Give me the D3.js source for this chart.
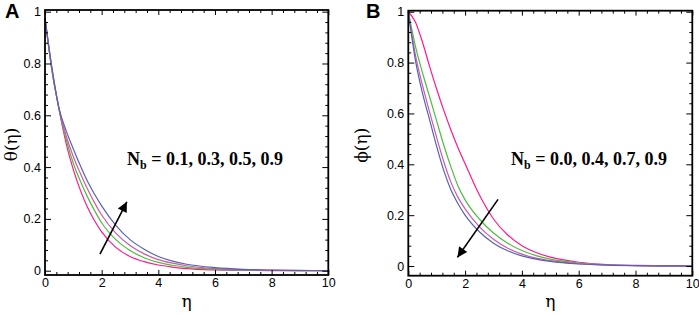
<!DOCTYPE html>
<html><head><meta charset="utf-8">
<script src="https://cdn.jsdelivr.net/npm/d3@7"></script>
<style>
body{margin:0;background:#fff;}
svg{display:block;}
</style></head>
<body>
<svg id="c" width="699" height="315"></svg>
<script>
// ---------- data ----------
const eta = [0,0.25,0.5,0.75,1,1.25,1.5,1.75,2,2.5,3,3.5,4,4.5,5,6,7,8,9,10];

// Panel A: theta(eta), Nb = 0.1, 0.3, 0.5, 0.9
const thetaNb01 = [0.975,0.77,0.62,0.49,0.39,0.31,0.245,0.193,0.15,0.09,0.055,0.035,0.022,0.014,0.008,0.003,0.0012,0.0005,0.0002,0];
const thetaNb03 = [0.975,0.77,0.622,0.505,0.415,0.345,0.285,0.232,0.185,0.12,0.078,0.05,0.032,0.021,0.013,0.0055,0.0022,0.001,0.0004,0];
const thetaNb05 = [0.975,0.775,0.624,0.52,0.44,0.375,0.315,0.262,0.215,0.145,0.097,0.065,0.043,0.029,0.019,0.008,0.0035,0.0015,0.0006,0.0003];
const thetaNb09 = [0.975,0.78,0.625,0.54,0.47,0.405,0.345,0.295,0.25,0.175,0.12,0.083,0.055,0.037,0.025,0.012,0.0055,0.0025,0.001,0.0005];

// Panel B: phi(eta), Nb = 0.0, 0.4, 0.7, 0.9
const phiNb00 = [1,0.96,0.88,0.785,0.695,0.612,0.535,0.465,0.402,0.28,0.185,0.122,0.08,0.053,0.035,0.015,0.006,0.0025,0.001,0];
const phiNb04 = [1,0.865,0.76,0.665,0.57,0.475,0.39,0.315,0.26,0.185,0.13,0.09,0.061,0.041,0.027,0.012,0.005,0.002,0.0008,0];
const phiNb07 = [1,0.83,0.71,0.605,0.505,0.41,0.33,0.27,0.225,0.155,0.105,0.07,0.047,0.031,0.021,0.009,0.004,0.0016,0.0006,0];
const phiNb09 = [1,0.81,0.68,0.575,0.47,0.375,0.3,0.245,0.2,0.135,0.09,0.06,0.04,0.027,0.018,0.008,0.0035,0.0015,0.0006,0];

const xTicks = [0,2,4,6,8,10];
const yTicks = [0,0.2,0.4,0.6,0.8,1];
const yTickLabels = ["0","0.2","0.4","0.6","0.8","1"];
const seriesColors = ["#ff1a8c","#4fbd3c","#cc5aaa","#5862b4"];

const panels = [
  {letter:"A", ylab:"θ(η)", series:[thetaNb01,thetaNb03,thetaNb05,thetaNb09],
   note:"= 0.1, 0.3, 0.5, 0.9", arrow:[[1.94,0.064],[2.89,0.266]],
   box:{l:45,r:328.3,t:10,b:275}, ydom:[-0.0166,1.0065], noteX:127, ylabX:12, letterX:5},
  {letter:"B", ylab:"ϕ(η)", series:[phiNb00,phiNb04,phiNb07,phiNb09],
   note:"= 0.0, 0.4, 0.7, 0.9", arrow:[[3.16,0.262],[1.73,0.034]],
   box:{l:408.3,r:692.3,t:10.7,b:275.7}, ydom:[-0.038,1.004], noteX:511, ylabX:362, letterX:366}
];

const svg = d3.select("#c");
const defs = svg.append("defs");
defs.append("marker").attr("id","ah").attr("viewBox","0 0 10 10")
  .attr("refX",10).attr("refY",5).attr("markerWidth",15).attr("markerHeight",10)
  .attr("markerUnits","userSpaceOnUse").attr("orient","auto")
  .append("path").attr("d","M0,0 L10,5 L0,10 Z").attr("fill","#000");

panels.forEach(p => {
  const B = p.box;
  const x = d3.scaleLinear().domain([0,10]).range([B.l,B.r]);
  const y = d3.scaleLinear().domain(p.ydom).range([B.b,B.t]);
  const g = svg.append("g");

  // curves
  const line = d3.line().x((d,i)=>x(eta[i])).y(d=>y(d)).curve(d3.curveMonotoneX);
  p.series.forEach((s,i)=>{
    g.append("path").attr("d",line(s)).attr("fill","none")
      .attr("stroke",seriesColors[i]).attr("stroke-width",1.2);
  });

  // minor ticks
  const xMinor = d3.range(0,10.001,0.4).filter(v=>!xTicks.some(t=>Math.abs(t-v)<1e-6));
  const yMinor = d3.range(0,1.001,0.04).filter(v=>!yTicks.some(t=>Math.abs(t-v)<1e-6));
  const styleAxis = sel => { sel.select(".domain").remove(); sel.selectAll("line").attr("stroke","#000"); };

  g.append("g").attr("transform",`translate(0,${B.b})`)
    .call(d3.axisBottom(x).tickValues(xMinor).tickSize(-3).tickFormat("")).call(styleAxis);
  g.append("g").attr("transform",`translate(0,${B.t})`)
    .call(d3.axisTop(x).tickValues(xMinor).tickSize(-3).tickFormat("")).call(styleAxis);
  g.append("g").attr("transform",`translate(${B.l},0)`)
    .call(d3.axisLeft(y).tickValues(yMinor).tickSize(-3).tickFormat("")).call(styleAxis);
  g.append("g").attr("transform",`translate(${B.r},0)`)
    .call(d3.axisRight(y).tickValues(yMinor).tickSize(-3).tickFormat("")).call(styleAxis);

  // major ticks
  const font = sel => sel.selectAll("text").attr("font-family","Liberation Sans, Arial, sans-serif")
      .attr("font-size",12.5).attr("fill","#000");
  g.append("g").attr("transform",`translate(0,${B.b})`)
    .call(d3.axisBottom(x).tickValues(xTicks).tickSize(-5).tickPadding(3).tickFormat(d3.format("d")))
    .call(styleAxis).call(font);
  g.append("g").attr("transform",`translate(0,${B.t})`)
    .call(d3.axisTop(x).tickValues(xTicks).tickSize(-5).tickFormat("")).call(styleAxis);
  g.append("g").attr("transform",`translate(${B.l},0)`)
    .call(d3.axisLeft(y).tickValues(yTicks).tickSize(-6).tickPadding(4).tickFormat((d,i)=>yTickLabels[i]))
    .call(styleAxis).call(font);
  g.append("g").attr("transform",`translate(${B.r},0)`)
    .call(d3.axisRight(y).tickValues(yTicks).tickSize(-6).tickFormat("")).call(styleAxis);

  // frame
  g.append("rect").attr("x",B.l).attr("y",B.t).attr("width",B.r-B.l).attr("height",B.b-B.t)
    .attr("fill","none").attr("stroke","#000").attr("stroke-width",1.8);

  // axis labels
  g.append("text").attr("x",(B.l+B.r)/2).attr("y",307).attr("text-anchor","middle")
    .attr("font-family","DejaVu Serif, serif").attr("font-size",17).text("η");
  g.append("text").attr("transform",`translate(${p.ylabX+5},${(B.t+B.b)/2+2}) rotate(-90)`)
    .attr("text-anchor","middle").attr("font-family","DejaVu Serif, serif").attr("font-size",17)
    .text(p.ylab);

  // panel letter
  g.append("text").attr("x",p.letterX).attr("y",18).attr("font-family","Liberation Sans, Arial, sans-serif")
    .attr("font-weight","bold").attr("font-size",20).text(p.letter);

  // annotation
  const t = g.append("text").attr("x",p.noteX).attr("y",165)
    .attr("font-family","Liberation Serif, Times New Roman, serif").attr("font-weight","bold").attr("font-size",18);
  t.append("tspan").text("N");
  t.append("tspan").attr("font-size",12).attr("dy",4).text("b");
  t.append("tspan").attr("dy",-4).text(" " + p.note);

  // arrow
  g.append("line").attr("x1",x(p.arrow[0][0])).attr("y1",y(p.arrow[0][1]))
    .attr("x2",x(p.arrow[1][0])).attr("y2",y(p.arrow[1][1]))
    .attr("stroke","#000").attr("stroke-width",1.6).attr("marker-end","url(#ah)");
});
</script>
</body></html>
